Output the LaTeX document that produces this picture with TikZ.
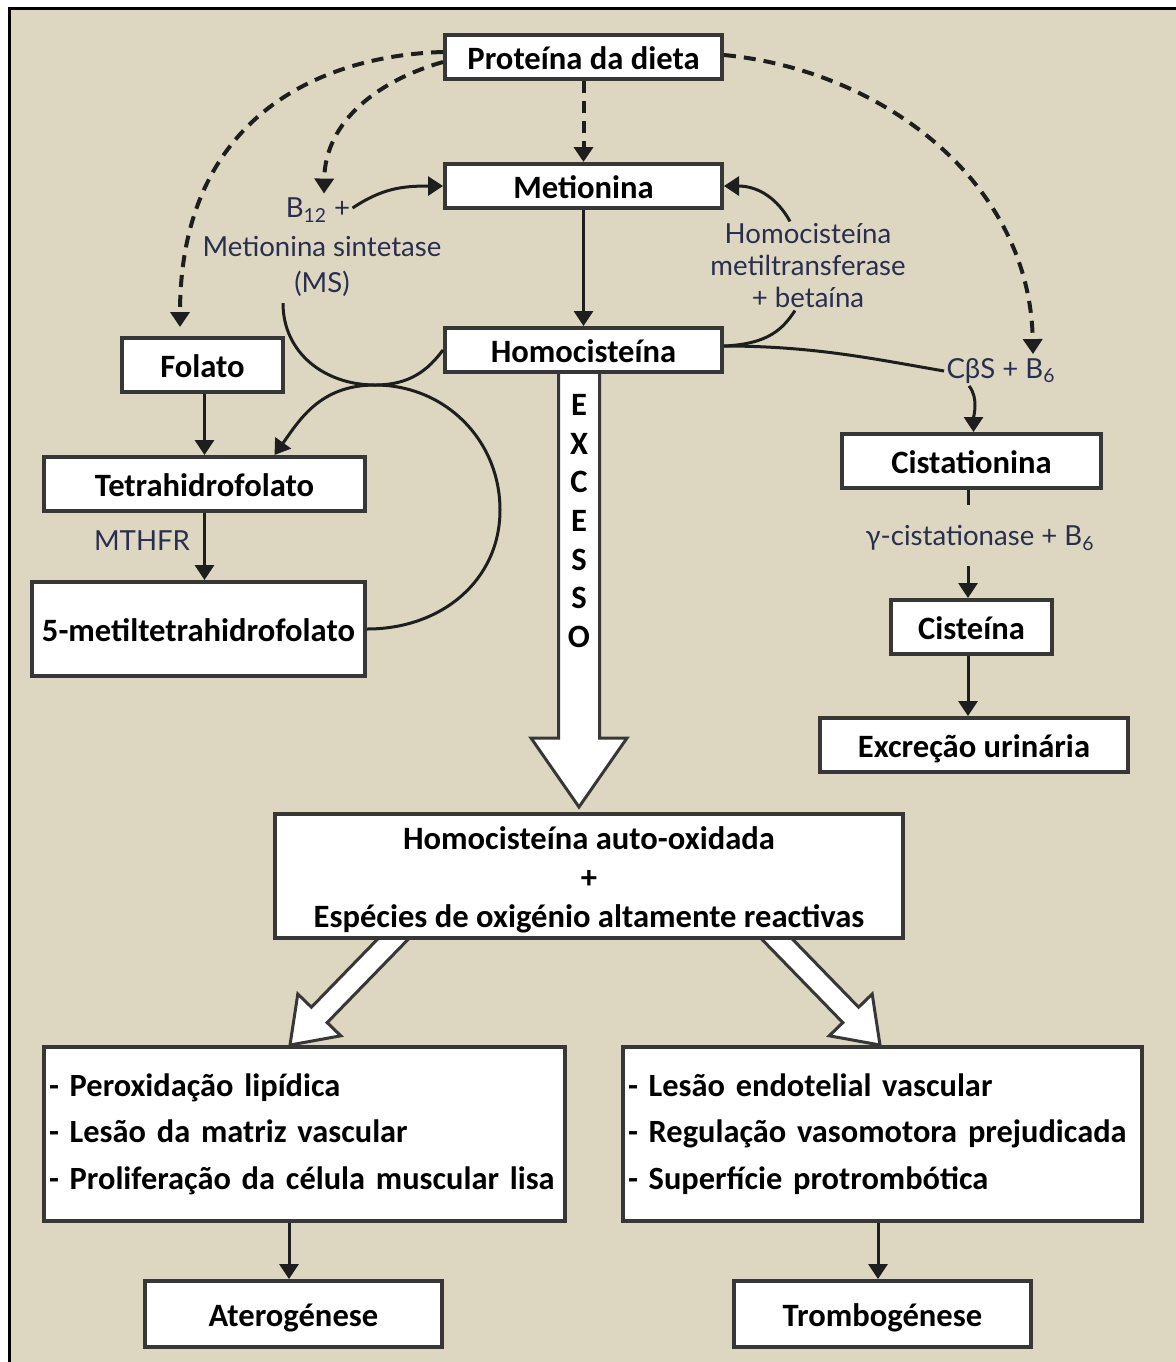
\documentclass[tikz,border=0pt]{standalone}
\usepackage{fontspec}
\setmainfont{Carlito}
\newfontfamily\lblfont{Lato}
\usetikzlibrary{arrows.meta,calc}
\definecolor{beige}{RGB}{221,215,193}
\definecolor{boxc}{RGB}{55,55,55}
\definecolor{linec}{RGB}{30,30,30}
\definecolor{lblc}{RGB}{42,46,78}
\newcommand\tightspacing{\spaceskip=3.2pt plus 1pt\relax}
\pgfdeclarelayer{back}
\pgfdeclarelayer{bg}
\pgfsetlayers{back,bg,main}
\begin{document}
\begin{tikzpicture}[x=0.5pt,y=-0.5pt,
  boxfont/.style={font=\bfseries\fontsize{16.3pt}{19.5pt}\selectfont, text=black},
  box/.style={draw=boxc, line width=2pt, fill=white, inner sep=0pt, boxfont},
  sbox/.style={box, text height=12pt, text depth=0pt},
  listbox/.style={box, minimum height=87pt, inner xsep=2.5pt, align=left,
    font=\bfseries\fontsize{16.2pt}{23.25pt}\selectfont\tightspacing},
  lbl/.style={font=\lblfont\fontsize{13.8pt}{16pt}\selectfont, text=lblc, inner sep=1pt},
  conn/.style={draw=linec, line width=1.5pt, -{Triangle[width=9.5pt,length=7.5pt]}},
  lnk/.style={draw=linec, line width=1.5pt},
  dsh/.style={draw=linec, line width=2pt, dash pattern=on 6pt off 4pt, -{Triangle[width=9.5pt,length=7.5pt]}},
  hollow/.style={draw=boxc, line width=1.5pt, fill=white, line join=miter}
]
\useasboundingbox (0,0) rectangle (1176,1362);
\begin{pgfonlayer}{back}
\fill[white] (0,0) rectangle (1176,1362);
\fill[beige] (10,10) rectangle (1176,1362);
\draw[black, line width=1.5pt] (8,8.5) -- (1176,8.5);
\draw[black, line width=1.5pt] (9.5,7) -- (9.5,1362);
\end{pgfonlayer}

% boxes
\node[sbox, minimum width=138.5pt, minimum height=22pt] (prot) at (583.5,57) {Proteína da dieta};
\node[sbox, minimum width=138.5pt, minimum height=22pt] (met) at (583.5,186) {Metionina};
\node[sbox, minimum width=138.5pt, minimum height=22pt] (hcy) at (583.5,350) {Homocisteína};
\node[sbox, minimum width=80.5pt, minimum height=27pt] (fol) at (202.5,365) {Folato};
\node[sbox, minimum width=160.5pt, minimum height=27pt] (thf) at (204.5,484) {Tetrahidrofolato};
\node[sbox, minimum width=166.5pt, minimum height=47pt] (mthf) at (198.5,629) {5-metiltetrahidrofolato};
\node[sbox, minimum width=129.5pt, minimum height=27pt] (cist) at (971.5,461) {Cistationina};
\node[sbox, minimum width=80.5pt, minimum height=27pt] (cys) at (971.5,627) {Cisteína};
\node[sbox, minimum width=154pt, minimum height=27pt] (exc) at (974,745) {Excreção urinária};
\node[box, minimum width=314pt, minimum height=62pt] (big) at (589,876) {};
\node[boxfont, align=center, inner sep=0pt] (bigtxt) at (589,880)
  {Homocisteína auto-oxidada\\+\\Espécies de oxigénio altamente reactivas};
\node[listbox, text width=255.5pt] (left) at (304.5,1134)
  {- Peroxidação lipídica\\- Lesão da matriz vascular\\- Proliferação da célula muscular lisa};
\node[listbox, text width=254.5pt] (right) at (882.5,1134)
  {- Lesão endotelial vascular\\- Regulação vasomotora prejudicada\\- Superfície protrombótica};
\node[sbox, minimum width=148.5pt, minimum height=33pt] (ater) at (293.5,1314) {Aterogénese};
\node[sbox, minimum width=148.5pt, minimum height=33pt] (tromb) at (882.5,1314) {Trombogénese};

% labels
\node[lbl] (b12) at (318,210) {B\textsubscript{12} +};
\node[lbl] (ms) at (322,246) {Metionina sintetase};
\node[lbl] (msab) at (322,284) {(MS)};
\node[lbl, align=center] (hmt) at (808,266) {Homocisteína\\metiltransferase\\+ betaína};
\node[lbl] (cbs) at (1001,371) {CβS + B\textsubscript{6}};
\node[lbl] (gcs) at (980,538) {γ-cistationase + B\textsubscript{6}};
\node[lbl] (mthfr) at (142,541) {MTHFR};
\node[font=\bfseries\fontsize{16.3pt}{19.35pt}\selectfont, align=center, inner sep=0pt] (exs) at (579,521) {E\\X\\C\\E\\S\\S\\O};
\coordinate (kiss) at (375,385);

% hollow arrows
\begin{pgfonlayer}{bg}
\path[hollow] (558.5,370) -- (558.5,738) -- (531,738) -- (579,807) -- (627,738) -- (599.5,738) -- (599.5,370);
\path[hollow] (419.9,927.2) -- (327.2,1022.6) -- (340.8,1035.8) -- (290,1045) -- (297.8,994.0) -- (311.4,1007.2) -- (404.1,911.8) -- cycle;
\path[hollow] (750.1,927.2) -- (842.8,1022.6) -- (829.2,1035.8) -- (880,1045) -- (872.2,994.0) -- (858.6,1007.2) -- (765.9,911.8) -- cycle;
\end{pgfonlayer}

% connectors
\draw[dsh] (prot) -- (met);
\draw[conn] (met) -- (hcy);
\draw[dsh] ([yshift=2.5pt]prot.west) .. controls (330,55) and (180,110) .. ([xshift=-11.25pt,yshift=4.5pt]fol.north);
\draw[dsh] ([yshift=-2.5pt]prot.west) .. controls (380,80) and (325,120) .. ([xshift=3pt,yshift=1pt]b12.north);
\draw[dsh] ([yshift=1pt]prot.east) .. controls (880,70) and (1030,180) .. ([xshift=16pt,yshift=1pt]cbs.north);
\draw[conn] ([yshift=1pt]b12.east) .. controls +(30,-20) and +(-40,0) .. (met.west);
\draw[lnk] ([xshift=-19.5pt,yshift=-2pt]msab.south) .. controls +(0,50) and +(-50,0) .. (kiss) .. controls +(35,0) and +(-15,20) .. (hcy.west);
\draw[conn] (mthf.east) .. controls +(75,0) and +(0,70) .. (500,510) .. controls +(0,-70) and +(70,0) .. (kiss) .. controls +(-55,0) and +(25,-35) .. ([xshift=35pt]thf.north);
\draw[lnk] ([yshift=2pt]hcy.east) .. controls +(90,0) and +(-70,-12) .. (cbs.west);
\draw[lnk] ([yshift=2pt]hcy.east) .. controls +(45,-2) and +(-12,18) .. ([xshift=-6.5pt]hmt.south);
\draw[conn] ([xshift=-9pt]hmt.north) .. controls +(-12,-22) and +(35,0) .. (met.east);
\draw[conn] ([xshift=-16pt]cbs.south) .. controls +(10,12) and +(0,-15) .. ([xshift=1pt]cist.north);
\draw[lnk] ([xshift=-1.75pt]cist.south) -- ++(0,15);
\draw[conn] ([xshift=-1.75pt,yshift=16pt]cys.north) -- ([xshift=-1.75pt]cys.north);
\draw[conn] ([xshift=-1.75pt]cys.south) -- ([xshift=-1.75pt]cys.south |- exc.north);
\draw[conn] ([xshift=1pt]fol.south) -- ([xshift=1pt]fol.south |- thf.north);
\draw[conn] (thf.south) -- (thf.south |- mthf.north);
\draw[conn] ([xshift=-2.25pt]ater.north |- left.south) -- ([xshift=-2.25pt]ater.north);
\draw[conn] ([xshift=-2.25pt]tromb.north |- right.south) -- ([xshift=-2.25pt]tromb.north);
\end{tikzpicture}
\end{document}
